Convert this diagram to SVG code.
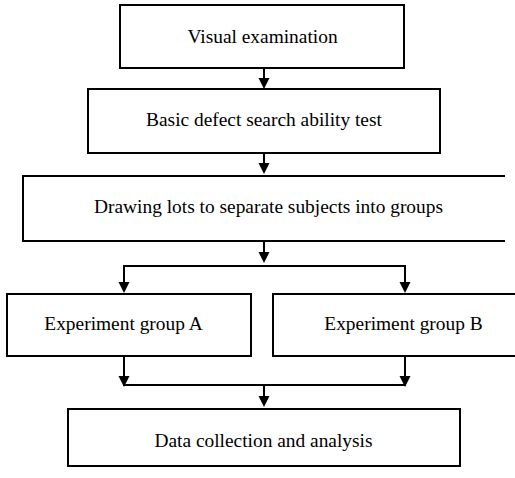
<svg xmlns="http://www.w3.org/2000/svg" width="515" height="478" viewBox="0 0 515 478">
<defs>
<style>
.box{fill:#fff;stroke:#000;stroke-width:2}
.t{font-family:'Liberation Serif','Times New Roman',Times,'DejaVu Serif',serif;font-size:19.4px;fill:#000;text-anchor:middle}
.c{fill:none;stroke:#000;stroke-width:2}
</style>
</defs>
<rect width="515" height="478" fill="#fff"/>
<g id="n1"><rect class="box" x="120" y="5" width="284" height="63"/><text class="t" x="262.5" y="43">Visual examination</text></g>
<g id="n2"><rect class="box" x="88" y="89" width="352" height="64"/><text class="t" x="264" y="126">Basic defect search ability test</text></g>
<g id="n3"><path class="box" d="M505,176 H23 V241 H505"/><text class="t" x="268.5" y="213">Drawing lots to separate subjects into groups</text></g>
<g id="n4"><rect class="box" x="7" y="294" width="244" height="62"/><text class="t" x="123.5" y="330">Experiment group A</text></g>
<g id="n5"><path class="box" d="M516,294 H273 V356 H516"/><text class="t" x="403.5" y="330">Experiment group B</text></g>
<g id="n6"><rect class="box" x="68" y="409" width="392" height="57"/><text class="t" x="263.5" y="447">Data collection and analysis</text></g>
<g id="connectors">
<path class="c" d="M264,68 V79" /><path d="M258.5,78 H269.5 L264,89 Z"/>
<path class="c" d="M264,153 V164" /><path d="M258.5,163 H269.5 L264,174 Z"/>
<path class="c" d="M264,241 V253" /><path d="M258.5,252 H269.5 L264,263 Z"/>
<path class="c" d="M124,283 V266 H405 V283"/>
<path d="M118.5,282 H129.5 L124,293 Z"/>
<path d="M399.5,282 H410.5 L405,293 Z"/>
<path class="c" d="M124,356 V385 H405 V356"/>
<path d="M118.5,376 H129.5 L124,387 Z"/>
<path d="M399.5,376 H410.5 L405,387 Z"/>
<path class="c" d="M264,385 V397" /><path d="M258.5,396 H269.5 L264,407 Z"/>
</g>
</svg>
